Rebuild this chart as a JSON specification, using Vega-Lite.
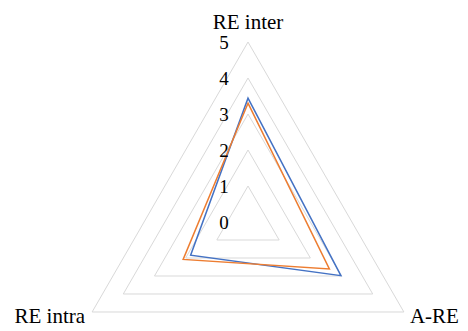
{
  "$schema": "https://vega.github.io/schema/vega-lite/v6.json",
  "width": 468,
  "height": 331,
  "padding": 0,
  "autosize": {"type": "none"},
  "background": "white",
  "config": {"view": {"stroke": null}},
  "datasets": {
    "series": [
      {"series": "Series 1", "axis": "RE inter", "value": 3.44},
      {"series": "Series 1", "axis": "A-RE", "value": 2.98},
      {"series": "Series 1", "axis": "RE intra", "value": 1.84},
      {"series": "Series 2", "axis": "RE inter", "value": 3.30},
      {"series": "Series 2", "axis": "A-RE", "value": 2.61},
      {"series": "Series 2", "axis": "RE intra", "value": 2.08}
    ],
    "grid": [
      {"level": 1, "axis": "RE inter"}, {"level": 1, "axis": "A-RE"}, {"level": 1, "axis": "RE intra"},
      {"level": 2, "axis": "RE inter"}, {"level": 2, "axis": "A-RE"}, {"level": 2, "axis": "RE intra"},
      {"level": 3, "axis": "RE inter"}, {"level": 3, "axis": "A-RE"}, {"level": 3, "axis": "RE intra"},
      {"level": 4, "axis": "RE inter"}, {"level": 4, "axis": "A-RE"}, {"level": 4, "axis": "RE intra"},
      {"level": 5, "axis": "RE inter"}, {"level": 5, "axis": "A-RE"}, {"level": 5, "axis": "RE intra"}
    ],
    "ticks": [
      {"level": 0}, {"level": 1}, {"level": 2}, {"level": 3}, {"level": 4}, {"level": 5}
    ],
    "axes": [
      {"axis": "RE inter"}, {"axis": "A-RE"}, {"axis": "RE intra"}
    ]
  },
  "layer": [
    {
      "data": {"name": "grid"},
      "transform": [
        {"calculate": "datum.axis == 'RE inter' ? PI/2 : (datum.axis == 'A-RE' ? -PI/6 : 7*PI/6)", "as": "ang"},
        {"calculate": "datum.axis == 'RE inter' ? 0 : (datum.axis == 'A-RE' ? 1 : 2)", "as": "k"},
        {"calculate": "datum.level * cos(datum.ang)", "as": "px"},
        {"calculate": "datum.level * sin(datum.ang)", "as": "py"}
      ],
      "mark": {"type": "line", "interpolate": "linear-closed", "stroke": "#d9d9d9", "strokeWidth": 1},
      "encoding": {
        "x": {"field": "px", "type": "quantitative", "scale": {"domain": [-6.8889, 6.1111], "nice": false, "zero": false}, "axis": null},
        "y": {"field": "py", "type": "quantitative", "scale": {"domain": [-3.0278, 6.1667], "nice": false, "zero": false}, "axis": null},
        "detail": {"field": "level", "type": "nominal"},
        "order": {"field": "k", "type": "quantitative"}
      }
    },
    {
      "data": {"name": "series"},
      "transform": [
        {"calculate": "datum.axis == 'RE inter' ? PI/2 : (datum.axis == 'A-RE' ? -PI/6 : 7*PI/6)", "as": "ang"},
        {"calculate": "datum.axis == 'RE inter' ? 0 : (datum.axis == 'A-RE' ? 1 : 2)", "as": "k"},
        {"calculate": "datum.value * cos(datum.ang)", "as": "px"},
        {"calculate": "datum.value * sin(datum.ang)", "as": "py"}
      ],
      "mark": {"type": "line", "interpolate": "linear-closed", "strokeWidth": 1.5},
      "encoding": {
        "x": {"field": "px", "type": "quantitative", "scale": {"domain": [-6.8889, 6.1111], "nice": false, "zero": false}, "axis": null},
        "y": {"field": "py", "type": "quantitative", "scale": {"domain": [-3.0278, 6.1667], "nice": false, "zero": false}, "axis": null},
        "color": {"field": "series", "type": "nominal", "scale": {"domain": ["Series 1", "Series 2"], "range": ["#4472C4", "#ED7D31"]}, "legend": null},
        "order": {"field": "k", "type": "quantitative"}
      }
    },
    {
      "data": {"name": "ticks"},
      "mark": {"type": "text", "font": "Times New Roman", "fontSize": 19, "align": "center", "baseline": "middle", "dx": -24, "dy": 1},
      "encoding": {
        "x": {"datum": 0, "type": "quantitative", "scale": {"domain": [-6.8889, 6.1111], "nice": false, "zero": false}, "axis": null},
        "y": {"field": "level", "type": "quantitative", "scale": {"domain": [-3.0278, 6.1667], "nice": false, "zero": false}, "axis": null},
        "text": {"field": "level"}
      }
    },
    {
      "data": {"name": "axes"},
      "transform": [
        {"filter": "datum.axis == 'RE inter'"}
      ],
      "mark": {"type": "text", "font": "Times New Roman", "fontSize": 21, "align": "center", "baseline": "alphabetic", "dy": -13},
      "encoding": {
        "x": {"datum": 0, "type": "quantitative", "scale": {"domain": [-6.8889, 6.1111], "nice": false, "zero": false}, "axis": null},
        "y": {"datum": 5, "type": "quantitative", "scale": {"domain": [-3.0278, 6.1667], "nice": false, "zero": false}, "axis": null},
        "text": {"field": "axis"}
      }
    },
    {
      "data": {"name": "axes"},
      "transform": [
        {"filter": "datum.axis == 'A-RE'"},
        {"calculate": "5 * cos(-PI/6)", "as": "px"},
        {"calculate": "5 * sin(-PI/6)", "as": "py"}
      ],
      "mark": {"type": "text", "font": "Times New Roman", "fontSize": 21, "align": "left", "baseline": "alphabetic", "dx": 6, "dy": 11},
      "encoding": {
        "x": {"field": "px", "type": "quantitative", "scale": {"domain": [-6.8889, 6.1111], "nice": false, "zero": false}, "axis": null},
        "y": {"field": "py", "type": "quantitative", "scale": {"domain": [-3.0278, 6.1667], "nice": false, "zero": false}, "axis": null},
        "text": {"field": "axis"}
      }
    },
    {
      "data": {"name": "axes"},
      "transform": [
        {"filter": "datum.axis == 'RE intra'"},
        {"calculate": "5 * cos(7*PI/6)", "as": "px"},
        {"calculate": "5 * sin(7*PI/6)", "as": "py"}
      ],
      "mark": {"type": "text", "font": "Times New Roman", "fontSize": 21, "align": "right", "baseline": "alphabetic", "dx": -7, "dy": 11},
      "encoding": {
        "x": {"field": "px", "type": "quantitative", "scale": {"domain": [-6.8889, 6.1111], "nice": false, "zero": false}, "axis": null},
        "y": {"field": "py", "type": "quantitative", "scale": {"domain": [-3.0278, 6.1667], "nice": false, "zero": false}, "axis": null},
        "text": {"field": "axis"}
      }
    }
  ]
}
